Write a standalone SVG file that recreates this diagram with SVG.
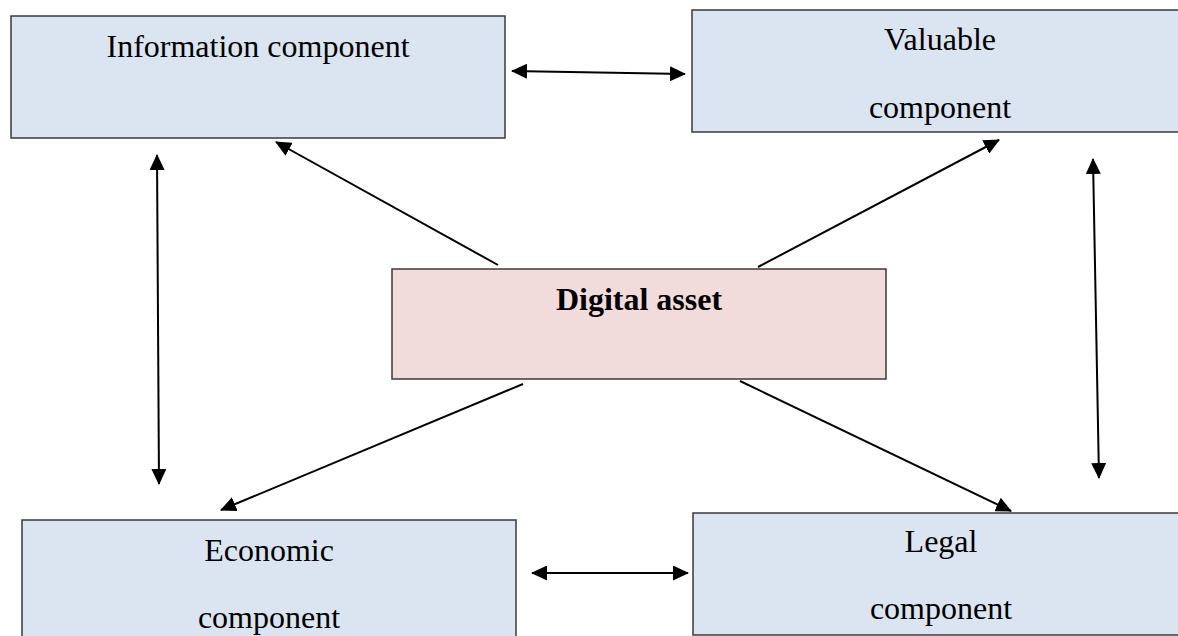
<svg xmlns="http://www.w3.org/2000/svg" width="1178" height="636" viewBox="0 0 1178 636">
<style>
.comp{fill:#dbe5f1;stroke:#3a3a3a;stroke-width:1.5}
.core{fill:#f2dcdb;stroke:#3a3a3a;stroke-width:1.5}
.t{font-family:"Liberation Serif","Times New Roman",serif;font-size:32px;fill:#000;text-anchor:middle}
.b{font-weight:bold}
.c{stroke:#000;stroke-width:2;fill:none;marker-end:url(#ah)}
.d{stroke:#000;stroke-width:2;fill:none;marker-start:url(#as);marker-end:url(#ah)}
</style>
<defs>
<marker id="ah" viewBox="0 0 16 15" refX="15" refY="7.5" markerWidth="16" markerHeight="15" markerUnits="userSpaceOnUse" orient="auto">
<path d="M0,0 L16,7.5 L0,15 Z" fill="#000"/>
</marker>
<marker id="as" viewBox="0 0 16 15" refX="1" refY="7.5" markerWidth="16" markerHeight="15" markerUnits="userSpaceOnUse" orient="auto">
<path d="M16,0 L0,7.5 L16,15 Z" fill="#000"/>
</marker>
</defs>
<rect width="1178" height="636" fill="#fff"/>
<g id="connectors">
<line class="d" x1="512" y1="71" x2="685" y2="74"/>
<line class="d" x1="532" y1="573" x2="688" y2="573"/>
<line class="d" x1="157" y1="155" x2="159" y2="484"/>
<line class="d" x1="1093" y1="159" x2="1099" y2="478"/>
<line class="c" x1="498" y1="265" x2="276" y2="142"/>
<line class="c" x1="758" y1="267" x2="999" y2="140"/>
<line class="c" x1="523" y1="384" x2="221" y2="510"/>
<line class="c" x1="740" y1="381" x2="1011" y2="511"/>
</g>
<g id="info">
<rect class="comp" x="11" y="16" width="494" height="122"/>
<text class="t" x="258" y="57">Information component</text>
</g>
<g id="valuable">
<rect class="comp" x="692" y="10" width="496" height="122"/>
<text class="t" x="940" y="50">Valuable</text>
<text class="t" x="940" y="118">component</text>
</g>
<g id="economic">
<rect class="comp" x="22" y="520" width="494" height="130"/>
<text class="t" x="269" y="561">Economic</text>
<text class="t" x="269" y="628">component</text>
</g>
<g id="legal">
<rect class="comp" x="693" y="513" width="496" height="122"/>
<text class="t" x="941" y="552">Legal</text>
<text class="t" x="941" y="619">component</text>
</g>
<g id="digital">
<rect class="core" x="392" y="269" width="494" height="110"/>
<text class="t b" x="639" y="310">Digital asset</text>
</g>
</svg>
